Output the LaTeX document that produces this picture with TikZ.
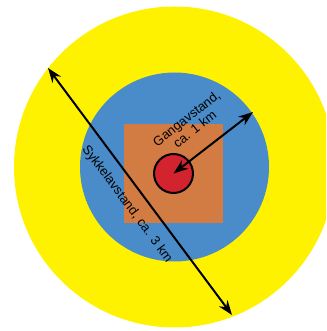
\documentclass[tikz,border=0pt]{standalone}
\usepackage{fontspec}
\setmainfont{Liberation Sans}
\usetikzlibrary{arrows.meta}
\definecolor{Sol}{HTML}{FFF200}
\definecolor{Sky}{HTML}{4A8CC9}
\definecolor{Clay}{HTML}{D27C43}
\definecolor{Berry}{HTML}{D3232E}

\begin{document}
\begin{tikzpicture}[x=0.75pt, y=0.75pt, >={Stealth[length=11pt,width=8pt]}, line width=1.5pt,
  dist/.style={font=\fontsize{9.8}{10}\selectfont, align=center, inner sep=0pt}]
  \useasboundingbox (0,0) rectangle (326,331);
  \clip (0,0) rectangle (326,331);
  \coordinate (mid) at (174.5,164);
  \coordinate (core) at (173.5,157.5);
  % zones
  \fill[Sol] (mid) circle (160.5);
  \fill[Sky] (mid) circle (94.5);
  \fill[Clay] (124,108) rectangle (223,207);
  \draw[fill=Berry] (core) circle (19.5);
  % distances
  \coordinate (walk) at (253,219);
  \coordinate (bikeA) at (48,263);
  \coordinate (bikeB) at (232,16);
  \draw[<->] (core) -- (walk);
  \draw[<->] (bikeA) -- (bikeB);
  \node[dist, rotate=38.2] (walklabel) at (190.5,207.5) {Gangavstand,\\ca. 1 km};
  \node[dist, rotate=-53.3] (bikelabel) at (127,127) {Sykkelavstand, ca. 3 km};
\end{tikzpicture}
\end{document}
